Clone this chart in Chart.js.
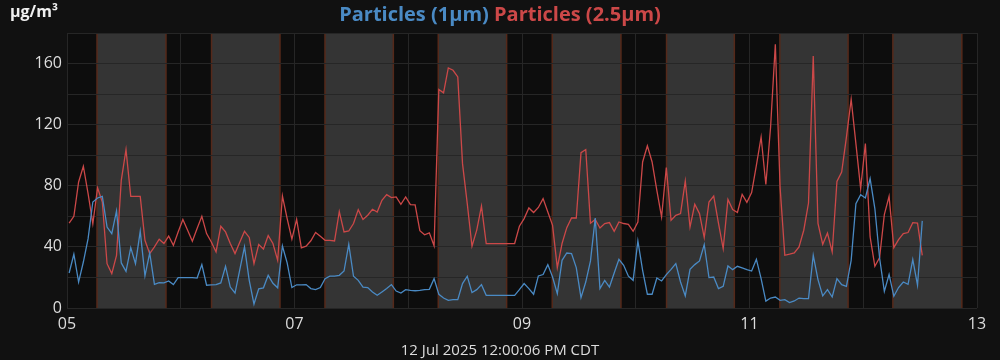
<!DOCTYPE html>
<html>
<head>
<meta charset="utf-8">
<script src="https://cdn.jsdelivr.net/npm/chart.js@4.4.0/dist/chart.umd.min.js"></script>
<style>
html,body{margin:0;padding:0;background:#111;}
#wrap{width:1000px;height:360px;}
</style>
</head>
<body>
<div id="wrap"><canvas id="c" width="1000" height="360"></canvas></div>
<script>
// ---- data (hourly samples, first sample ~00:27 on 05 Jul 2025) ----
const START_DAY = 5;          // day-of-month of first sample
const FIRST_HOUR = 0.45;      // hour of day of first sample
const STEP_HOURS = 1;         // sampling interval

const pm1 = [
  22.9,35.2,17,30.1,45.4,69.4,72,73.1,53,48.7,63.5,29.5,24,39.5,29,50.2,21,36,15.5,16.6,16.4,17.7,15.3,19.9,
  19.9,19.9,19.9,19.6,28.4,14.9,15.1,15.3,16.4,27.3,13.7,9.8,25,40,18.1,2.6,12.5,13.2,21.4,16.2,13.2,40.6,29.5,13.4,
  15.2,15.2,15.3,12.7,12,13.4,19.2,20.8,20.8,21.4,24.2,41.7,20.8,18.1,13.7,13.4,10.5,8.3,10.5,12.7,15.3,11.1,9.8,12,
  11.6,11.3,11.6,12,12.2,19.2,9,6.5,5,5.5,5.5,16,20.8,10.1,12,15.3,8.3,8.3,8.3,8.3,8.3,8.3,8.3,12,
  16,12.7,9,21,21.9,28.4,20.3,9.4,31.2,36,35.6,26.4,6.8,17,30.8,58.9,12.7,18.1,13.7,22.9,31.9,28,20.8,18.1,
  43.9,24.7,9,9,19.6,17.7,21.9,25.3,29,17,7.9,25.3,28.4,30.8,41.5,19.9,20.3,12.7,14.2,27.5,25.1,27.3,26.2,25.1,
  24.2,31.9,19.2,4.5,6.5,7.2,5,5.5,3.5,4.6,6.5,6.2,6.2,34.5,18.6,7.9,12,7.2,19.2,15.3,14.2,31.2,68.3,74.2,
  72,84.7,65.1,32.7,10.9,21.9,7.7,13.4,17,15.5,31.7,14.9,57
];

const pm25 = [
  55.6,60,82.5,92.8,74.9,55.2,78.6,69.4,29,22.5,34.5,83.6,103.7,73.1,73.1,73.1,44.3,35.6,40,45,42.2,47.1,41,49.8,
  57.9,50.9,43.7,52,60,48.7,43.2,36.7,53.5,49.8,42.2,35.6,43,50.2,46.2,29,41.5,38.6,47.4,42.2,31.2,73.3,58.5,45,
  58,39.4,40.5,44,49.4,46.9,44.3,44.3,43.9,63.1,49.8,50.4,55.3,64.4,57.9,60.7,64.6,62.8,70.5,74.2,72.3,72.7,67.9,72.7,
  67.7,67.5,50.6,47.9,49.2,40.7,143,140.8,157.1,155.6,151.2,94.5,68.3,40.4,51,66.7,42.2,42.2,42.2,42.2,42.2,42.2,42.2,53.5,
  58.5,65.5,62.5,65.8,71.6,62.8,54.1,26.4,42.2,52.6,58.9,58.9,101.7,103.7,55.5,58,52.4,55.3,55.9,50.2,56.3,55.3,54.8,50.2,
  56.3,95.6,106.1,95.6,77,59.6,91.9,57.4,60.7,61.8,83.1,53,67.9,61.8,46.1,69.4,73.3,55.6,38.9,71,64.4,62.5,74.4,69.2,
  75.5,93.4,111.9,80.8,118.5,172.6,79.2,34.5,35.2,36,40,50.9,68.7,165,55.3,41.7,49.1,36.7,82.9,89,111.9,136.6,107.6,78.2,
  107.6,46.5,27.3,33,61.1,73.1,39.5,44.8,48.7,49.4,55.9,55.6,34.5
];

// daylight periods (hour of day) for 05..12 Jul
const days        = [5, 6, 7, 8, 9, 10, 11, 12];
const sunriseHour = [6.33, 6.5, 6.43, 6.33, 6.38, 6.5, 6.4, 6.25];
const sunsetHour  = [20.89, 20.94, 20.85, 20.76, 20.88, 20.8, 20.8, 20.8];

const yTicksLabeled = [0, 40, 80, 120, 160];
const xTicksLabeled = [5, 7, 9, 11, 13];

const TITLE_1 = 'Particles (1\u00b5m)';
const TITLE_2 = 'Particles (2.5\u00b5m)';
const UNITS = '\u00b5g/m\u00b3';
const X_TITLE = '12 Jul 2025 12:00:06 PM CDT';

// ---- chart ----
const toPoints = arr => arr.map((v, i) => ({ x: START_DAY + (FIRST_HOUR + i * STEP_HOURS) / 24, y: v }));

const BLUE = '#4a8ac4';
const RED = '#cc4848';

const deco = {
  id: 'deco',
  beforeDraw(chart) {
    const { ctx, chartArea: a, scales: { x } } = chart;
    ctx.save();
    ctx.fillStyle = '#111111';
    ctx.fillRect(0, 0, chart.width, chart.height);
    ctx.fillStyle = '#0d0d0d';
    ctx.fillRect(a.left, a.top, a.right - a.left, a.bottom - a.top);
    days.forEach((d, i) => {
      const x0 = x.getPixelForValue(d + sunriseHour[i] / 24);
      const x1 = x.getPixelForValue(d + sunsetHour[i] / 24);
      ctx.fillStyle = '#343434';
      ctx.fillRect(x0, a.top, x1 - x0, a.bottom - a.top);
      ctx.strokeStyle = '#55291a';
      ctx.lineWidth = 1.5;
      ctx.beginPath();
      ctx.moveTo(x0, a.top); ctx.lineTo(x0, a.bottom);
      ctx.moveTo(x1, a.top); ctx.lineTo(x1, a.bottom);
      ctx.stroke();
    });
    ctx.restore();
  },
  afterDraw(chart) {
    const { ctx } = chart;
    ctx.save();
    ctx.textBaseline = 'alphabetic';
    ctx.font = 'bold 20px "Open Sans"';
    const w1 = ctx.measureText(TITLE_1).width;
    const ws = ctx.measureText(' ').width;
    const w2 = ctx.measureText(TITLE_2).width;
    const start = 500 - (w1 + ws + w2) / 2;
    ctx.textAlign = 'left';
    ctx.fillStyle = BLUE;
    ctx.fillText(TITLE_1, start, 21);
    ctx.fillStyle = RED;
    ctx.fillText(TITLE_2, start + w1 + ws, 21);

    ctx.font = 'bold 16px "Open Sans"';
    ctx.fillStyle = '#f0f0f0';
    ctx.fillText(UNITS, 10, 17);

    ctx.font = '15px "Open Sans"';
    ctx.fillStyle = '#dddddd';
    ctx.textAlign = 'center';
    ctx.fillText(X_TITLE, 500, 355);
    ctx.restore();
  }
};

Chart.defaults.font.family = '"Open Sans", sans-serif';

new Chart(document.getElementById('c'), {
  type: 'line',
  data: {
    datasets: [
      { label: TITLE_1, data: toPoints(pm1), borderColor: BLUE, borderWidth: 1.3, pointRadius: 0, tension: 0, fill: false, order: 0 },
      { label: TITLE_2, data: toPoints(pm25), borderColor: RED, borderWidth: 1.3, pointRadius: 0, tension: 0, fill: false, order: 1 }
    ]
  },
  options: {
    responsive: false,
    animation: false,
    devicePixelRatio: 1,
    layout: { padding: { top: 33, right: 23, left: 0, bottom: 0 } },
    plugins: { legend: { display: false }, tooltip: { enabled: false }, title: { display: false } },
    scales: {
      x: {
        type: 'linear', min: 5, max: 13,
        grid: { color: '#262626', lineWidth: 1, drawTicks: false },
        border: { display: false },
        ticks: {
          stepSize: 1, autoSkip: false, maxRotation: 0, padding: 7,
          color: '#dddddd', font: { size: 16 },
          callback: v => xTicksLabeled.includes(v) ? String(v).padStart(2, '0') : ''
        },
        afterFit: s => { s.height = 52; }
      },
      y: {
        min: 0, max: 180,
        grid: { color: '#262626', lineWidth: 1, drawTicks: false },
        border: { display: false },
        ticks: {
          stepSize: 20, padding: 5, color: '#dddddd', font: { size: 16 },
          callback: v => yTicksLabeled.includes(v) ? String(v) : ''
        },
        afterFit: s => { s.width = 67; }
      }
    }
  },
  plugins: [deco]
});
</script>
</body>
</html>
